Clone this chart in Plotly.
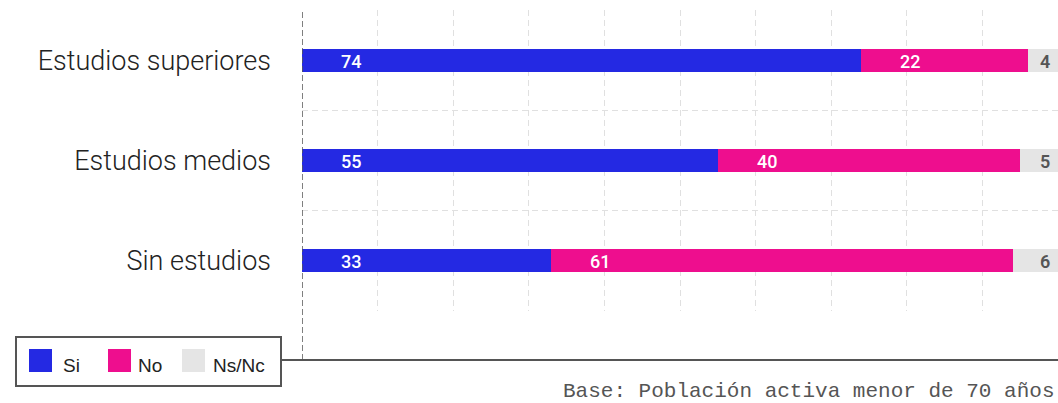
import plotly.graph_objects as go

categories = ["Estudios superiores", "Estudios medios", "Sin estudios"]
series_names = ["Si", "No", "Ns/Nc"]
si_values = [74, 55, 33]
no_values = [22, 40, 61]
nsnc_values = [4, 5, 6]
footer_text = "Base: Población activa menor de 70 años"

colors = ["#2429E3", "#EE0E8E", "#E5E5E5"]
series_values = [si_values, no_values, nsnc_values]

fig = go.Figure()
for name, vals, col in zip(series_names, series_values, colors):
    fig.add_trace(go.Bar(
        y=categories, x=vals, name=name, orientation="h",
        marker=dict(color=col, line=dict(width=0)),
        width=0.23, showlegend=False, hoverinfo="x+name",
    ))

annotations = []
for i, cat in enumerate(categories):
    base = 0
    for s, (vals, col) in enumerate(zip(series_values, colors)):
        v = vals[i]
        if s < 2:
            annotations.append(dict(
                x=base, y=cat, xref="x", yref="y", text=str(v), showarrow=False,
                xanchor="center", yanchor="middle", xshift=49, yshift=-1,
                font=dict(family="Roboto", size=18, color="white", weight=500),
            ))
        else:
            annotations.append(dict(
                x=base + v, y=cat, xref="x", yref="y", text=str(v), showarrow=False,
                xanchor="right", yanchor="middle", xshift=-6, yshift=-1,
                font=dict(family="Roboto", size=18, color="#555555", weight=600),
            ))
        base += v

# layout geometry helpers (pixels -> paper)
L, R, T, B = 302, 1058, 10, 311
def px_x(p):
    return (p - L) / (R - L)
def px_y(p):
    return (B - p) / (B - T)

shapes = []
# dashed dark y-axis line
shapes.append(dict(type="line", xref="x", yref="paper", x0=0, x1=0,
                   y0=px_y(360), y1=1, line=dict(color="#555555", width=1.5, dash="6px,3px")))
# solid x-axis baseline
shapes.append(dict(type="line", xref="paper", yref="paper", x0=px_x(281), x1=1,
                   y0=px_y(360), y1=px_y(360), line=dict(color="#555555", width=2)))
# legend box
shapes.append(dict(type="rect", xref="paper", yref="paper", x0=px_x(16), x1=px_x(281),
                   y0=px_y(386), y1=px_y(337), line=dict(color="#555555", width=2),
                   fillcolor="white"))
sq_x = [29, 108, 182]
txt_x = [61, 136, 211]
for name, col, sx, tx in zip(series_names, colors, sq_x, txt_x):
    shapes.append(dict(type="rect", xref="paper", yref="paper", x0=px_x(sx), x1=px_x(sx + 23),
                       y0=px_y(372), y1=px_y(349), line=dict(width=0), fillcolor=col))
    annotations.append(dict(x=px_x(tx), y=px_y(365), xref="paper", yref="paper", text=name,
                            showarrow=False, xanchor="left", yanchor="middle",
                            font=dict(family="Liberation Sans", size=19, color="#222222")))

annotations.append(dict(x=px_x(1056), y=px_y(391), xref="paper", yref="paper", text=footer_text,
                        showarrow=False, xanchor="right", yanchor="middle",
                        font=dict(family="Liberation Mono", size=21, color="#555555")))

fig.update_layout(
    barmode="stack",
    width=1058, height=403,
    margin=dict(l=L, r=1058 - R, t=T, b=403 - B, pad=0),
    paper_bgcolor="white", plot_bgcolor="white",
    shapes=shapes, annotations=annotations,
    showlegend=False,
)
fig.update_xaxes(range=[0, 100], dtick=10, showgrid=True, gridcolor="#e0e0e0", griddash="6px,4px",
                 gridwidth=1, showticklabels=False, zeroline=False, showline=False, fixedrange=True)
fig.update_yaxes(type="category", categoryorder="array", categoryarray=categories[::-1],
                 range=[-0.5, 2.5], tickson="boundaries", showgrid=True, gridcolor="#e0e0e0",
                 griddash="6px,4px", gridwidth=1, ticks="", ticklabelstandoff=30,
                 tickfont=dict(family="Roboto", size=27, color="#222222", weight=300),
                 zeroline=False, showline=False, fixedrange=True)

fig.write_html("out.html", config={"displayModeBar": False},
               post_script="document.body.style.margin='0';document.body.style.overflow='hidden';")
